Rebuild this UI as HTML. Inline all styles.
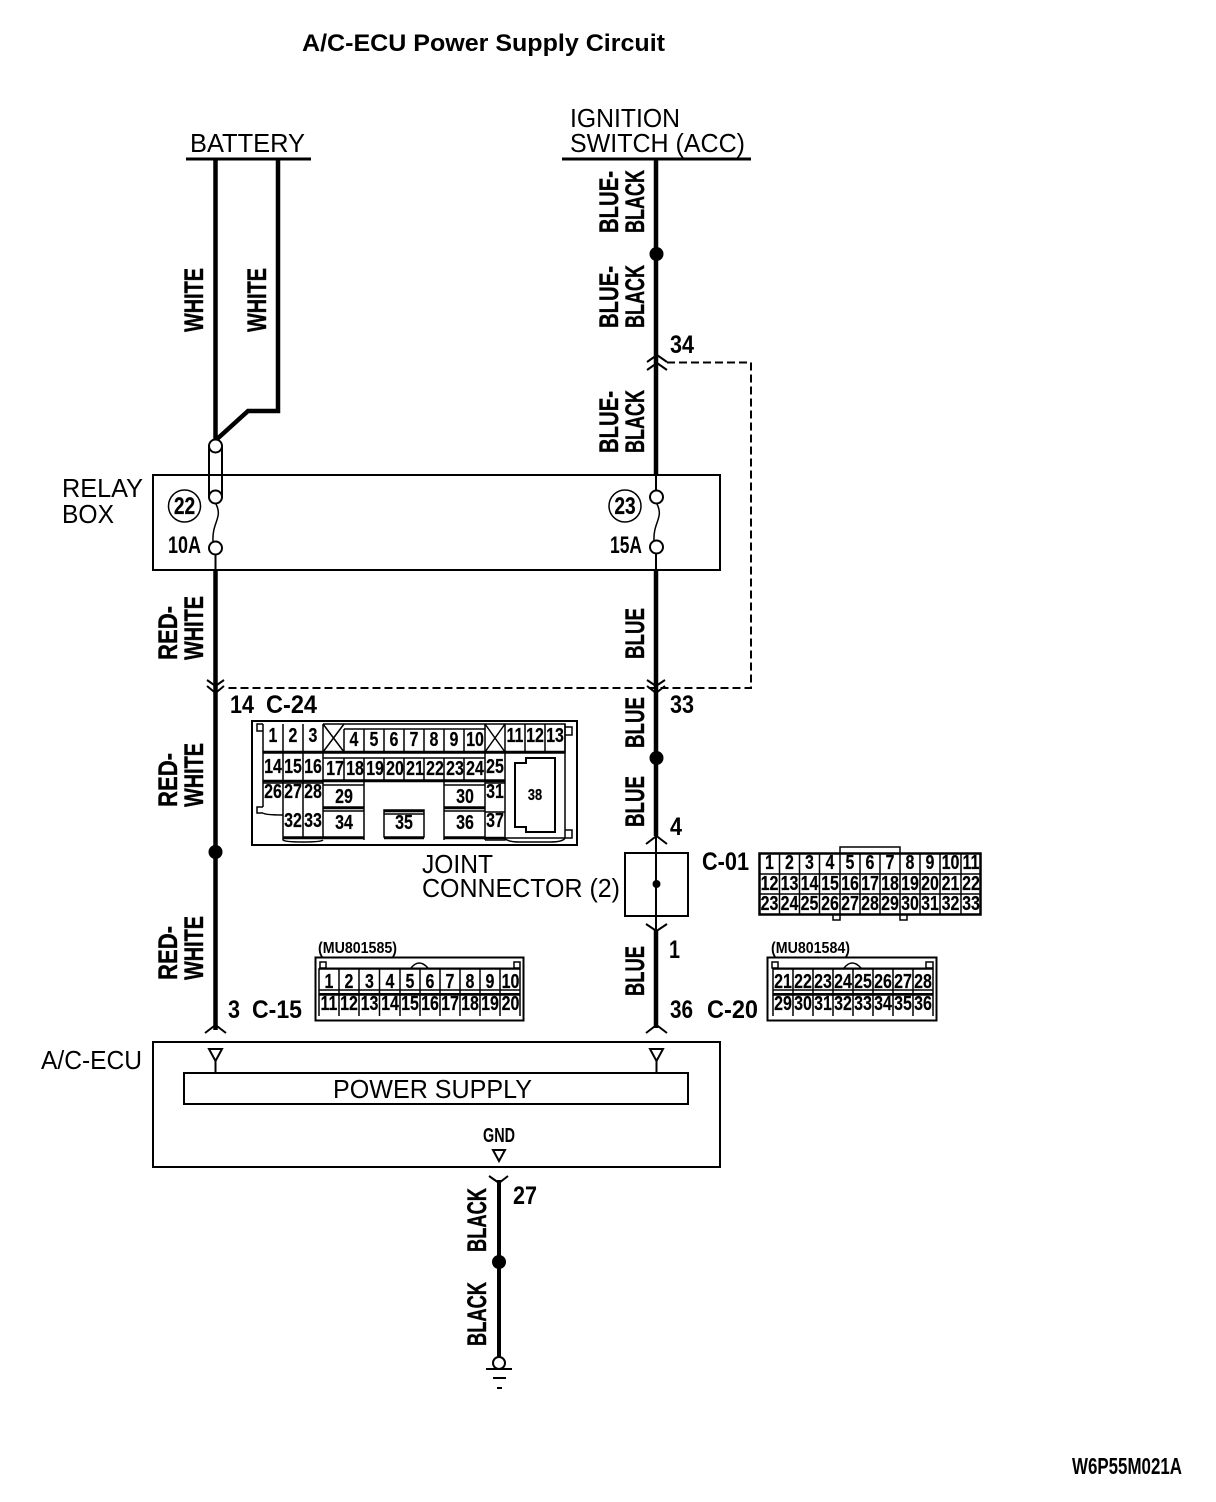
<!DOCTYPE html>
<html><head><meta charset="utf-8"><style>
html,body{margin:0;padding:0;background:#fff}
svg{display:block}
text{font-family:"Liberation Sans",sans-serif;fill:#000}
.b{font-weight:bold}
.w{font-weight:bold;font-size:27px;stroke:#000;stroke-width:.4}
.n{font-weight:bold;font-size:25px}
.r{font-size:26px}
.c text{font-weight:bold;font-size:20px;text-anchor:middle;transform:scaleX(.8);transform-box:fill-box;transform-origin:center;stroke:#000;stroke-width:.2}
</style></head><body>
<svg width="1216" height="1502" viewBox="0 0 1216 1502" xmlns="http://www.w3.org/2000/svg">
<g fill="none" stroke="#000" stroke-width="2">
<!-- top lines -->
<path d="M186 159H311M562 159H751" stroke-width="3"/>
<!-- main wires -->
<path d="M215.500 160V440M278 160V411H248L216 440" stroke-width="4.500"/>
<path d="M215.500 570V1030M656 160V475M656 570V836M656 930V1028" stroke-width="4.500"/>
<path d="M215.500 554V570M656 475V491M656 554V570M656 836V930"/>
<path d="M499 1180V1358" stroke-width="4"/>
<!-- boxes -->
<rect x="153" y="475" width="567" height="95"/>
<rect x="153" y="1042" width="567" height="125"/>
<rect x="184" y="1073" width="504" height="31"/>
<rect x="625" y="853" width="63" height="63"/>
<!-- dashed -->
<path d="M667 362.500H751V688H225" stroke-dasharray="8 4"/>
<!-- fuses -->
<path d="M209 446V497M222 446V497"/>
<circle cx="215.500" cy="446" r="6.500" fill="#fff"/>
<circle cx="215.500" cy="497" r="6.500" fill="#fff"/>
<circle cx="215.500" cy="548" r="6.500" fill="#fff"/>
<circle cx="656.500" cy="497" r="6.500" fill="#fff"/>
<circle cx="656.500" cy="547" r="6.500" fill="#fff"/>
<path d="M216 504C223 518 212 522 213 541M657 504C664 518 653 522 654 541" stroke-width="1.500"/>
<circle cx="184.500" cy="506" r="16" stroke-width="1.500"/>
<circle cx="625" cy="506" r="16" stroke-width="1.500"/>
<!-- chevrons -->
<path d="M647 362L657 355L667 362M647 370L657 363L667 370"/>
<path d="M207 680L215.500 686L224 680M207 686L215.500 693L224 686"/>
<path d="M647 680L656 686L665 680M647 686L656 693L665 686"/>
<path d="M646 844L656.500 836L667 844M646 924L656.500 931L667 924"/>
<path d="M205 1033L215.500 1025L226 1033M646 1033L656.500 1025L667 1033"/>
<path d="M489 1176L499 1183L508 1176"/>
<!-- triangles -->
<path d="M209 1049H222L215.500 1061ZM650 1049H663L656.500 1061ZM493 1150H505L499 1161Z"/>
<path d="M215.500 1061V1073M656.500 1061V1073"/>
<!-- ground -->
<circle cx="499" cy="1363" r="6" fill="#fff"/>
<path d="M486 1369H512M493 1378H506M497 1388H502"/>
<!-- C-24 -->
<rect x="252" y="721" width="325" height="124"/>
<path stroke-width="1.500" d="M263 724V807M283 724V837M303 724V837M323 724V837M263 753H323M263 783H323M263 813Q265 815 283 815M263 724H257V731H263M263 807H257V813H263
M344 729V752M364 729V752M384 729V752M404 729V752M424 729V752M444 729V752M464 729V752M485 724V840M505 724V752M525 724V752M545 724V752M565 724V752H344M323 724H565V727M344 729H485
M323 758H485M344 758V780M364 758V780M384 758V780M404 758V780M424 758V780M444 758V780M464 758V780M323 780H505M323 753H505V840H485M485 783H505M485 812H505
M323 785H364V807H323M364 780V840M444 780V840M444 785H485M444 807H485M323 811H364M444 811H485M323 837H364M444 837H485M384 810H424V837H384ZM384 814H424M283 837H323M283 837V840Q285 842 303 842T323 840"/>
<path stroke-width="2.500" d="M263 752H565M263 781H505M323 808H364M444 808H485M283 838H364M384 838H424M444 838H505M384 811H424"/>
<path stroke-width="1.500" d="M323 724L344 752M344 724L323 752M485 724L505 752M505 724L485 752"/>
<path stroke-width="1.500" d="M505 753H565V838H505M505 838Q507 842 520 842H550Q563 842 565 838M565 724V838M565 727H572V735H565M565 830H572V838H565"/>
<path d="M515 763H526V758H555V832H526V827H515Z"/>
<!-- C-01 -->
<rect x="759.500" y="853.500" width="221" height="61" stroke-width="2.500"/>
<path stroke-width="1.500" d="M779.500 853V914M799.500 853V914M819.500 853V914M840 853V914M860 853V914M880 853V914M900 853V914M920 853V914M940 853V914M961 853V914M759 874H981M759 894H981"/>
<path stroke-width="1.500" d="M840 853V847H900V853M833 914V920H840V914M900 914V920H907V914"/>
<!-- C-20 -->
<rect x="767.500" y="957.500" width="169" height="63"/>
<path stroke-width="1.500" d="M773 969H933V990H773ZM773 995H933M793 969V1016M813 969V1016M833 969V1016M853 969V1016M873 969V1016M893 969V1016M913 969V1016M773 969V1016M933 969V1016M772 962H778V968H772ZM926 962H933V968H926ZM844 968Q852 958 861 968"/>
<path d="M773 968.500H933M773 994H933"/>
<!-- C-15 -->
<rect x="315.500" y="957.500" width="208" height="63"/>
<path stroke-width="1.500" d="M319 969H520V990H319ZM319 995H520M339 969V1016M359 969V1016M379.500 969V1016M400 969V1016M420 969V1016M440 969V1016M460 969V1016M480 969V1016M500 969V1016M319 969V1016M520 969V1016M320 962H326V968H320ZM514 962H520V968H514ZM411 968Q419 958 428 968"/>
<path d="M319 968.500H520M319 994H520"/>
</g>
<circle cx="656.500" cy="254" r="7"/>
<circle cx="656.500" cy="758" r="7"/>
<circle cx="215.500" cy="852" r="7"/>
<circle cx="499" cy="1262" r="7"/>
<circle cx="656.500" cy="884" r="4"/>

<!-- title -->
<text x="302" y="51" class="b" font-size="24" textLength="363" lengthAdjust="spacingAndGlyphs">A/C-ECU Power Supply Circuit</text>
<text x="190" y="152" class="r" textLength="115" lengthAdjust="spacingAndGlyphs">BATTERY</text>
<text x="570" y="127" class="r" textLength="110" lengthAdjust="spacingAndGlyphs">IGNITION</text>
<text x="570" y="152" class="r" textLength="175" lengthAdjust="spacingAndGlyphs">SWITCH (ACC)</text>
<text x="62" y="497" class="r" textLength="81" lengthAdjust="spacingAndGlyphs">RELAY</text>
<text x="62" y="523" class="r" textLength="52" lengthAdjust="spacingAndGlyphs">BOX</text>
<text x="422" y="873" class="r" textLength="71" lengthAdjust="spacingAndGlyphs">JOINT</text>
<text x="422" y="897" class="r" textLength="198" lengthAdjust="spacingAndGlyphs">CONNECTOR (2)</text>
<text x="41" y="1069" class="r" textLength="101" lengthAdjust="spacingAndGlyphs">A/C-ECU</text>
<text x="333" y="1098" class="r" textLength="199" lengthAdjust="spacingAndGlyphs">POWER SUPPLY</text>
<text x="483" y="1142" class="b" font-size="20" textLength="32" lengthAdjust="spacingAndGlyphs">GND</text>
<text x="1072" y="1474" class="b" font-size="23" textLength="110" lengthAdjust="spacingAndGlyphs">W6P55M021A</text>

<!-- rotated wire labels -->
<text class="w" transform="translate(203 332) rotate(-90)" textLength="64" lengthAdjust="spacingAndGlyphs">WHITE</text>
<text class="w" transform="translate(266 332) rotate(-90)" textLength="64" lengthAdjust="spacingAndGlyphs">WHITE</text>
<text class="w" transform="translate(618 233) rotate(-90)" textLength="62" lengthAdjust="spacingAndGlyphs">BLUE-</text>
<text class="w" transform="translate(644 233) rotate(-90)" textLength="63" lengthAdjust="spacingAndGlyphs">BLACK</text>
<text class="w" transform="translate(618 328) rotate(-90)" textLength="62" lengthAdjust="spacingAndGlyphs">BLUE-</text>
<text class="w" transform="translate(644 328) rotate(-90)" textLength="63" lengthAdjust="spacingAndGlyphs">BLACK</text>
<text class="w" transform="translate(618 453) rotate(-90)" textLength="62" lengthAdjust="spacingAndGlyphs">BLUE-</text>
<text class="w" transform="translate(644 453) rotate(-90)" textLength="63" lengthAdjust="spacingAndGlyphs">BLACK</text>
<text class="w" transform="translate(177 660) rotate(-90)" textLength="54" lengthAdjust="spacingAndGlyphs">RED-</text>
<text class="w" transform="translate(203 660) rotate(-90)" textLength="64" lengthAdjust="spacingAndGlyphs">WHITE</text>
<text class="w" transform="translate(177 807) rotate(-90)" textLength="54" lengthAdjust="spacingAndGlyphs">RED-</text>
<text class="w" transform="translate(203 807) rotate(-90)" textLength="64" lengthAdjust="spacingAndGlyphs">WHITE</text>
<text class="w" transform="translate(177 980) rotate(-90)" textLength="54" lengthAdjust="spacingAndGlyphs">RED-</text>
<text class="w" transform="translate(203 980) rotate(-90)" textLength="64" lengthAdjust="spacingAndGlyphs">WHITE</text>
<text class="w" transform="translate(644 659) rotate(-90)" textLength="51" lengthAdjust="spacingAndGlyphs">BLUE</text>
<text class="w" transform="translate(644 748) rotate(-90)" textLength="51" lengthAdjust="spacingAndGlyphs">BLUE</text>
<text class="w" transform="translate(644 827) rotate(-90)" textLength="51" lengthAdjust="spacingAndGlyphs">BLUE</text>
<text class="w" transform="translate(644 996) rotate(-90)" textLength="50" lengthAdjust="spacingAndGlyphs">BLUE</text>
<text class="w" transform="translate(486 1252) rotate(-90)" textLength="64" lengthAdjust="spacingAndGlyphs">BLACK</text>
<text class="w" transform="translate(486 1346) rotate(-90)" textLength="64" lengthAdjust="spacingAndGlyphs">BLACK</text>

<!-- pin numbers -->
<text class="n" x="670" y="353" textLength="24" lengthAdjust="spacingAndGlyphs">34</text>
<text class="n" x="670" y="713" textLength="24" lengthAdjust="spacingAndGlyphs">33</text>
<text class="n" x="230" y="713" textLength="24" lengthAdjust="spacingAndGlyphs">14</text>
<text class="n" x="266" y="713" textLength="51" lengthAdjust="spacingAndGlyphs">C-24</text>
<text class="n" x="670" y="835" textLength="12" lengthAdjust="spacingAndGlyphs">4</text>
<text class="n" x="702" y="870" textLength="47" lengthAdjust="spacingAndGlyphs">C-01</text>
<text class="n" x="669" y="958" textLength="11" lengthAdjust="spacingAndGlyphs">1</text>
<text class="n" x="670" y="1018" textLength="23" lengthAdjust="spacingAndGlyphs">36</text>
<text class="n" x="707" y="1018" textLength="51" lengthAdjust="spacingAndGlyphs">C-20</text>
<text class="n" x="228" y="1018" textLength="12" lengthAdjust="spacingAndGlyphs">3</text>
<text class="n" x="252" y="1018" textLength="50" lengthAdjust="spacingAndGlyphs">C-15</text>
<text class="n" x="513" y="1204" textLength="24" lengthAdjust="spacingAndGlyphs">27</text>
<text class="b" x="168" y="553" font-size="24" textLength="33" lengthAdjust="spacingAndGlyphs">10A</text>
<text class="b" x="610" y="553" font-size="24" textLength="32" lengthAdjust="spacingAndGlyphs">15A</text>
<text class="b" x="318" y="953" font-size="16" textLength="79" lengthAdjust="spacingAndGlyphs">(MU801585)</text>
<text class="b" x="771" y="953" font-size="16" textLength="79" lengthAdjust="spacingAndGlyphs">(MU801584)</text>

<g class="c">
<text x="184.500" y="514" style="font-size:24px">22</text><text x="625" y="514" style="font-size:24px">23</text>
<!-- C-24 -->
<text x="273" y="742">1</text><text x="293" y="742">2</text><text x="313" y="742">3</text>
<text x="354" y="746">4</text><text x="374" y="746">5</text><text x="394" y="746">6</text><text x="414" y="746">7</text><text x="434" y="746">8</text><text x="454" y="746">9</text><text x="475" y="746">10</text>
<text x="515" y="742">11</text><text x="535" y="742">12</text><text x="555" y="742">13</text>
<text x="273" y="773">14</text><text x="293" y="773">15</text><text x="313" y="773">16</text>
<text x="335" y="775">17</text><text x="355" y="775">18</text><text x="375" y="775">19</text><text x="395" y="775">20</text><text x="415" y="775">21</text><text x="435" y="775">22</text><text x="455" y="775">23</text><text x="475" y="775">24</text><text x="495" y="773">25</text>
<text x="273" y="798">26</text><text x="293" y="798">27</text><text x="313" y="798">28</text><text x="344" y="803">29</text><text x="465" y="803">30</text><text x="495" y="798">31</text>
<text x="293" y="827">32</text><text x="313" y="827">33</text><text x="344" y="829">34</text><text x="404" y="829">35</text><text x="465" y="829">36</text><text x="495" y="827">37</text>
<text x="535" y="800" style="font-size:16px">38</text>
<!-- C-01 -->
<text x="769.500" y="869">1</text><text x="789.500" y="869">2</text><text x="809.500" y="869">3</text><text x="830" y="869">4</text><text x="850" y="869">5</text><text x="870" y="869">6</text><text x="890" y="869">7</text><text x="910" y="869">8</text><text x="930" y="869">9</text><text x="950.500" y="869">10</text><text x="971" y="869">11</text>
<text x="769.500" y="890">12</text><text x="789.500" y="890">13</text><text x="809.500" y="890">14</text><text x="830" y="890">15</text><text x="850" y="890">16</text><text x="870" y="890">17</text><text x="890" y="890">18</text><text x="910" y="890">19</text><text x="930" y="890">20</text><text x="950.500" y="890">21</text><text x="971" y="890">22</text>
<text x="769.500" y="910">23</text><text x="789.500" y="910">24</text><text x="809.500" y="910">25</text><text x="830" y="910">26</text><text x="850" y="910">27</text><text x="870" y="910">28</text><text x="890" y="910">29</text><text x="910" y="910">30</text><text x="930" y="910">31</text><text x="950.500" y="910">32</text><text x="971" y="910">33</text>
<!-- C-20 -->
<text x="783" y="988">21</text><text x="803" y="988">22</text><text x="823" y="988">23</text><text x="843" y="988">24</text><text x="863" y="988">25</text><text x="883" y="988">26</text><text x="903" y="988">27</text><text x="923" y="988">28</text>
<text x="783" y="1010">29</text><text x="803" y="1010">30</text><text x="823" y="1010">31</text><text x="843" y="1010">32</text><text x="863" y="1010">33</text><text x="883" y="1010">34</text><text x="903" y="1010">35</text><text x="923" y="1010">36</text>
<!-- C-15 -->
<text x="329" y="988">1</text><text x="349" y="988">2</text><text x="369.500" y="988">3</text><text x="390" y="988">4</text><text x="410" y="988">5</text><text x="430" y="988">6</text><text x="450" y="988">7</text><text x="470" y="988">8</text><text x="490" y="988">9</text><text x="510.500" y="988">10</text>
<text x="329" y="1010">11</text><text x="349" y="1010">12</text><text x="369.500" y="1010">13</text><text x="390" y="1010">14</text><text x="410" y="1010">15</text><text x="430" y="1010">16</text><text x="450" y="1010">17</text><text x="470" y="1010">18</text><text x="490" y="1010">19</text><text x="510.500" y="1010">20</text>
</g>
</svg>
</body></html>
